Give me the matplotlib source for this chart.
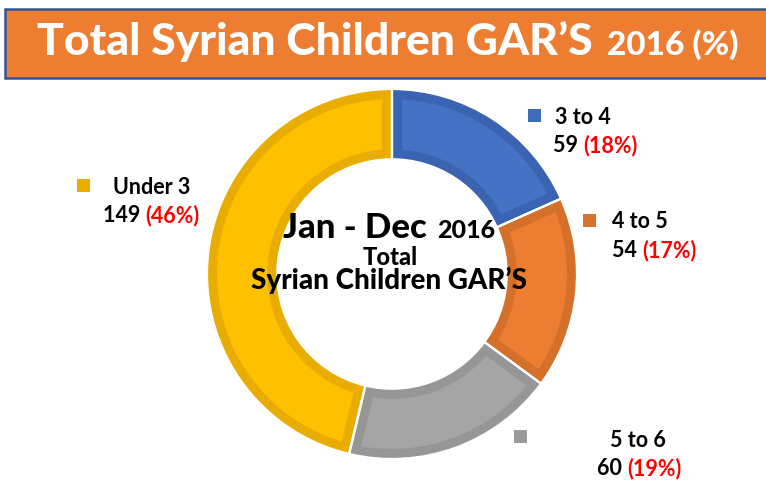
"""Donut chart: Total Syrian Children GAR'S 2016 by age group."""
import matplotlib
matplotlib.use("Agg")
import matplotlib.pyplot as plt
from matplotlib.patches import Rectangle

W, H = 766, 485

groups = ["3 to 4", "4 to 5", "5 to 6", "Under 3"]
counts = [59, 54, 60, 149]
fill_colors = ["#4472C4", "#ED7D31", "#A5A5A5", "#FFC000"]
edge_colors = ["#3A64B2", "#D4702A", "#969696", "#E8AD00"]
marker_colors = ["#3F6BBE", "#D8732E", "#9B9B9B", "#E8AD00"]

title_main = "Total Syrian Children GAR’S"
title_year = "2016 (%)"

total = sum(counts)
pcts = [round(c / total * 100) for c in counts]

FONT = "Lato"


def fx(x):
    return x / W


def fy(y):
    return 1 - y / H


fig = plt.figure(figsize=(W / 100, H / 100), dpi=100)
fig.patch.set_facecolor("white")

# ── title banner ──────────────────────────────────────────────────────────────
fig.add_artist(Rectangle((fx(5), fy(79)), fx(770) - fx(5), fy(10) - fy(79),
                         transform=fig.transFigure, facecolor="#ED7D31",
                         edgecolor="#2F5597", linewidth=1.8))
fig.text(fx(37), fy(55), title_main, color="white", fontsize=32,
         fontweight="black", family=FONT, va="baseline")
fig.text(fx(607), fy(55), title_year, color="white", fontsize=24,
         fontweight="black", family=FONT, va="baseline")

# ── donut ─────────────────────────────────────────────────────────────────────
cx, cy, r = 392, 275, 185
ax = fig.add_axes([fx(cx - r), fy(cy + r), (2 * r) / W, (2 * r) / H])
ax.set_aspect("equal")
ax.axis("off")

wedges, _ = ax.pie(counts, colors=fill_colors, startangle=90, counterclock=False,
                   radius=1, wedgeprops=dict(width=0.38, linewidth=14.5))
for w, ec in zip(wedges, edge_colors):
    w.set_edgecolor(ec)
    w.set_clip_on(True)
    w.set_clip_path(w)

# thin white separators between segments
ax.pie(counts, colors=["none"] * len(counts), startangle=90, counterclock=False,
       radius=1, wedgeprops=dict(width=0.38, linewidth=1.6, edgecolor="white"))
ax.set_xlim(-1, 1)
ax.set_ylim(-1, 1)

# ── centre text ───────────────────────────────────────────────────────────────
fig.text(fx(283), fy(238), "Jan - Dec", fontsize=25, fontweight="black",
         family=FONT, va="baseline", zorder=5)
fig.text(fx(437), fy(238), "2016", fontsize=18, fontweight="black",
         family=FONT, va="baseline", zorder=5)
fig.text(fx(390), fy(265), "Total", fontsize=17, fontweight="black",
         family=FONT, va="baseline", ha="center", zorder=5)
fig.text(fx(389), fy(289), "Syrian Children GAR’S", fontsize=20,
         fontweight="black", family=FONT, va="baseline", ha="center", zorder=5)

# ── data labels ───────────────────────────────────────────────────────────────
# (marker x, marker y, name x, name baseline, value x, value baseline)
label_pos = [
    (528, 110, 555, 124, 553, 152),
    (583, 215, 612, 228, 612, 257),
    (514, 431, 610, 447, 597, 475),
    (77, 180, 113, 194, 103, 222),
]
fig.canvas.draw()
for (mx, my, nx, ny, vx, vy), name, n, p, mc in zip(label_pos, groups, counts,
                                                    pcts, marker_colors):
    fig.add_artist(Rectangle((fx(mx), fy(my + 13)), 13 / W, 13 / H,
                             transform=fig.transFigure, facecolor=mc,
                             edgecolor="none"))
    fig.text(fx(nx), fy(ny), name, fontsize=15.5, fontweight="bold",
             family=FONT, va="baseline")
    tv = fig.text(fx(vx), fy(vy), f"{n} ", fontsize=15.5, fontweight="bold",
                  family=FONT, va="baseline")
    # red percentage placed right after the black count
    bb = tv.get_window_extent(renderer=fig.canvas.get_renderer())
    fig.text(bb.x1 / W, fy(vy), f"({p}%)", fontsize=15.5, fontweight="bold",
             family=FONT, color="#FF0000", va="baseline")

fig.savefig("out.png", dpi=100)
